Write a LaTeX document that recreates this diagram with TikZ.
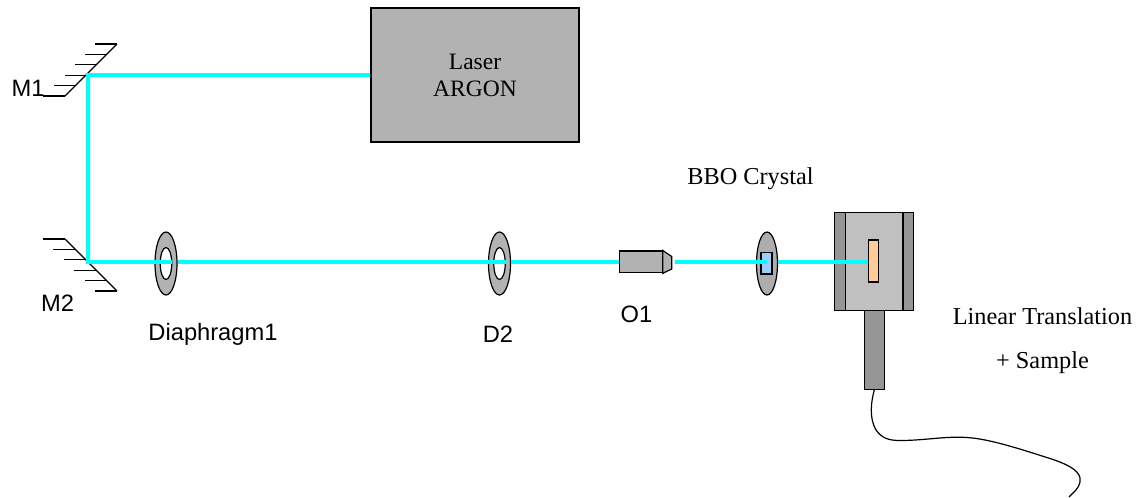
\documentclass[tikz,border=0pt]{standalone}
\usepackage{fontspec}
\setmainfont{Liberation Serif}
\setsansfont{Liberation Sans}
\usepackage{tikz}
\usetikzlibrary{shapes.geometric}
\definecolor{boxgray}{HTML}{B2B2B2}
\definecolor{railgray}{HTML}{969696}
\definecolor{stagegray}{HTML}{C0C0C0}
\definecolor{crystalblue}{HTML}{99CCFF}
\definecolor{sampleorange}{HTML}{FFCC99}
\definecolor{beamcyan}{HTML}{00FFFF}
\tikzstyle{process} = [rectangle, inner sep=0pt, draw=black, line width=1.2pt, fill=boxgray]
\tikzstyle{ring} = [ellipse, inner sep=0pt, minimum width=22pt, minimum height=63pt, draw=black, line width=1.2pt, fill=boxgray]
\tikzstyle{ringhole} = [ellipse, inner sep=0pt, minimum width=11.5pt, minimum height=32pt, draw=black, line width=1.2pt, fill=white]
\tikzstyle{beam} = [beamcyan, line width=3.6pt, line join=miter]
\tikzstyle{mirror} = [black, line width=1.1pt]
\tikzstyle{serif} = [inner sep=0pt, align=center, font=\fontsize{24.3}{27}\selectfont]
\tikzstyle{sans} = [inner sep=0pt, font=\sffamily\fontsize{23.7}{27}\selectfont]

\begin{document}
\begin{tikzpicture}[x=1pt, y=-1pt]
	\useasboundingbox (0,0) rectangle (1136,498);
	\coordinate (mone) at (88,75);
	\coordinate (mtwo) at (88,262);
	% mirrors
	\draw [mirror] (65,96) -- (117,44);
	\foreach \x/\y in {117/44, 107/54.4, 97/64.8, 87/75.2, 76/85.6, 65/96}
		\draw [mirror] (\x,\y) -- ++(-22,0);
	\draw [mirror] (65,239) -- (117,291);
	\foreach \x/\y in {65/239, 75.4/249.4, 85.8/259.8, 96.2/270.2, 106.6/280.6, 117/291}
		\draw [mirror] (\x,\y) -- ++(-22,0);
	% laser and rings
	\node (laser) [process, minimum width=208pt, minimum height=134pt, serif, font=\fontsize{23.5}{27}\selectfont] at (475,75) {Laser\\ARGON};
	\node (dia1) [ring] at (166,263.5) {};
	\node (dia1hole) [ringhole] at (dia1) {};
	\node (dia2) [ring] at (499.5,263.5) {};
	\node (dia2hole) [ringhole] at (dia2) {};
	\node (bbo) [ring, fill=stagegray!90!black, minimum width=21pt] at (767,263.5) {};
	\node (crystal) [process, fill=crystalblue, minimum width=11pt, minimum height=21.5pt] at (766.5,263.3) {};
	% objective
	\node (objective) [process, minimum width=42.7pt, minimum height=21.7pt] at (640.8,261.9) {};
	\draw [process] (objective.north east) -- (671.7,256.5) -- (671.7,269) -- (objective.south east) -- cycle;
	\coordinate (tip) at (675,262);
	% stage
	\node (stage) [process, fill=stagegray, minimum width=78.6pt, minimum height=98pt] at (874,261.7) {};
	\node (railleft) [process, fill=railgray, minimum width=10.4pt, minimum height=98pt] at (839.9,261.7) {};
	\node (railright) [process, fill=railgray, minimum width=10.4pt, minimum height=98pt] at (908.1,261.7) {};
	\node (rod) [process, fill=railgray, minimum width=20pt, minimum height=78.6pt] at (874.3,350) {};
	\node (sample) [process, fill=sampleorange, minimum width=10pt, minimum height=42pt] at (873.7,261) {};
	% beam
	\draw [beam] (laser.west) -- (mone) -- (mtwo) -- (dia1hole.east |- mtwo);
	\draw [beam] (dia1.east |- mtwo) -- (dia2hole.east |- mtwo);
	\draw [beam] (dia2.east |- mtwo) -- (objective.west |- mtwo);
	\draw [beam] (tip) -- (crystal.center |- mtwo);
	\draw [beam] (bbo.east |- mtwo) -- (sample.west |- mtwo);
	% cable
	\coordinate (cableend) at (1069,497);
	\draw [black, line width=1.2pt] (rod.south) .. controls (871,402) and (869,418) .. (876,430)
		.. controls (882,438) and (888,440.5) .. (900,440.5)
		.. controls (925,440.5) and (945,436) .. (967,437.5)
		.. controls (990,439) and (1020,449) .. (1050,458.5)
		.. controls (1070,465) and (1082,472) .. (1080,482)
		.. controls (1079,488) and (1074,492) .. (cableend);
	% labels
	\node (labm1) [sans] at (28,88) {M1};
	\node (labm2) [sans] at (57.5,303) {M2};
	\node (labdia1) [sans] at (213,334) {Diaphragm1};
	\node (labd2) [sans] at (498,334) {D2};
	\node (labo1) [sans] at (636.5,314) {O1};
	\node (labbbo) [serif] at (750.5,179) {BBO Crystal};
	\node (labstage) [serif] at (1042.5,316) {Linear Translation};
	\node (labsample) [serif] at (1042.5,363) {+ Sample};
\end{tikzpicture}
\end{document}
